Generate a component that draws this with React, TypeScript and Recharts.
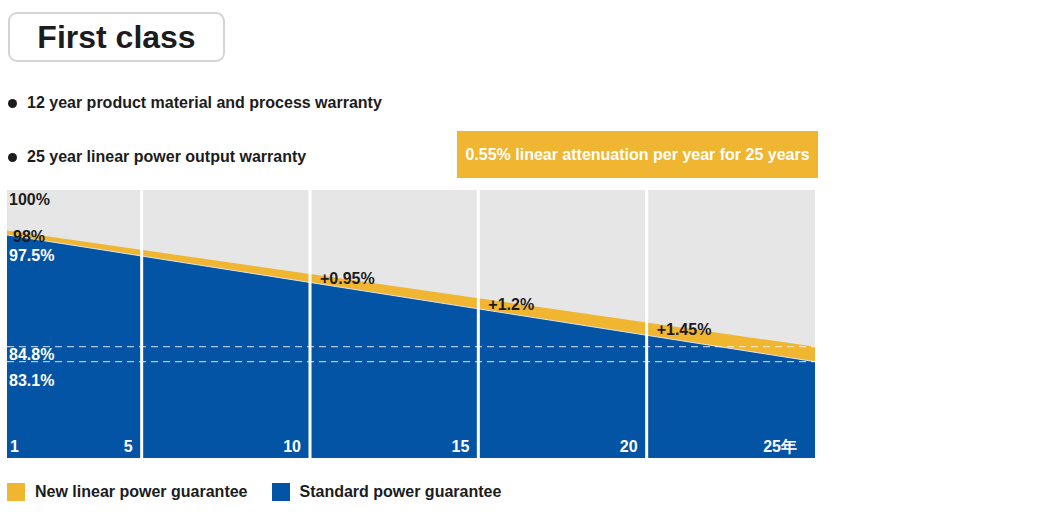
import React from 'react';
import {
  AreaChart,
  Area,
  XAxis,
  YAxis,
  CartesianGrid,
  ReferenceLine,
  ReferenceDot,
} from 'recharts';

// guaranteed output (% of nominal power) by year
const years = [1, 10, 15, 20, 25];
const newLinear = [98, 93.05, 90.3, 87.55, 84.8];
const standard = [97.5, 92.1, 89.1, 86.1, 83.1];

const gainYears = [10, 15, 20];
const gainLabels = ['+0.95%', '+1.2%', '+1.45%'];

const dividerYears = [5, 10, 15, 20];
const tickYears = [1, 5, 10, 15, 20, 25];
const tickLabels = ['1', '5', '10', '15', '20', '25年'];
const endMarks = [84.8, 83.1];

const bullets = [
  '12 year product material and process warranty',
  '25 year linear power output warranty',
];

const YELLOW = '#F0B531';
const BLUE = '#0454A6';
const GRAY = '#E6E6E6';
const DARK = '#1c1c1c';
const FONT = '"Liberation Sans", Arial, sans-serif';

const Y_MIN = 72.16;
const Y_MAX = 102.6;

const data = years.map((year, i) => ({
  year,
  newLinear: newLinear[i],
  standard: standard[i],
}));

const textDot = (
  key: string,
  x: number,
  y: number,
  text: string,
  dx: number,
  dy: number,
  fill: string,
  anchor: 'start' | 'end' = 'start'
) => (
  <ReferenceDot
    key={key}
    x={x}
    y={y}
    r={0}
    ifOverflow="visible"
    shape={(p: any) => (
      <text
        x={p.cx + dx}
        y={p.cy + dy}
        fill={fill}
        textAnchor={anchor}
        fontSize={16}
        fontWeight="bold"
        fontFamily={FONT}
      >
        {text}
      </text>
    )}
  />
);

export default function App() {
  return (
    <div style={{ position: 'absolute', left: 0, top: 0, width: 1060, height: 532, background: '#fff', fontFamily: FONT }}>
      <div
        style={{
          position: 'absolute',
          left: 8,
          top: 12,
          width: 213,
          height: 46,
          border: '2px solid #d4d4d4',
          borderRadius: 9,
          display: 'flex',
          alignItems: 'center',
          justifyContent: 'center',
          fontSize: 32,
          fontWeight: 'bold',
          color: DARK,
        }}
      >
        First class
      </div>

      {bullets.map((b, i) => (
        <div
          key={b}
          style={{
            position: 'absolute',
            left: 8,
            top: 93 + i * 54,
            display: 'flex',
            alignItems: 'center',
            fontSize: 16,
            fontWeight: 'bold',
            color: DARK,
            lineHeight: '20px',
          }}
        >
          <span style={{ width: 9, height: 9, borderRadius: '50%', background: DARK, display: 'inline-block', marginRight: 10 }} />
          {b}
        </div>
      ))}

      <div
        style={{
          position: 'absolute',
          left: 457,
          top: 131,
          width: 361,
          height: 47,
          background: YELLOW,
          color: '#fff',
          fontSize: 16,
          fontWeight: 'bold',
          display: 'flex',
          alignItems: 'center',
          justifyContent: 'center',
        }}
      >
        0.55% linear attenuation per year for 25 years
      </div>

      <div style={{ position: 'absolute', left: 0, top: 0 }}>
        <AreaChart
          width={1060}
          height={532}
          data={data}
          margin={{ top: 190, right: 245, bottom: 74, left: 7 }}
        >
          <CartesianGrid fill={GRAY} horizontal={false} vertical={false} />
          <XAxis dataKey="year" type="number" domain={[1, 25]} hide />
          <YAxis type="number" domain={[Y_MIN, Y_MAX]} allowDataOverflow hide />
          <Area
            dataKey="newLinear"
            type="linear"
            fill={YELLOW}
            fillOpacity={1}
            stroke="none"
            isAnimationActive={false}
          />
          <Area
            dataKey="standard"
            type="linear"
            fill={BLUE}
            fillOpacity={1}
            stroke="#dbe3ee"
            strokeWidth={1}
            isAnimationActive={false}
          />
          {endMarks.map((v) => (
            <ReferenceLine
              key={`m${v}`}
              y={v}
              stroke="#ffffff"
              strokeOpacity={0.85}
              strokeDasharray="7 5"
              strokeWidth={1}
            />
          ))}
          {dividerYears.map((yr) => (
            <ReferenceLine key={`d${yr}`} x={yr} stroke="#ffffff" strokeWidth={3} />
          ))}
          {textDot('t100', 1, 100, '100%', 2, -8, DARK)}
          {textDot('t98', 1, newLinear[0], '98%', 6, 12, DARK)}
          {textDot('t975', 1, standard[0], '97.5%', 2, 26, '#fff')}
          {endMarks.map((v, i) => textDot(`e${v}`, 1, v, `${v}%`, 2, i === 0 ? 13 : 24, '#fff'))}
          {gainYears.map((yr, i) => {
            const idx = years.indexOf(yr);
            const mid = (newLinear[idx] + standard[idx]) / 2;
            return textDot(`g${yr}`, yr, mid, gainLabels[i], 10, 6, DARK);
          })}
          {tickYears.map((yr, i) =>
            textDot(
              `x${yr}`,
              yr,
              Y_MIN,
              tickLabels[i],
              i === 0 ? 3 : i === tickYears.length - 1 ? -18 : -9,
              -6,
              '#fff',
              i === 0 ? 'start' : 'end'
            )
          )}
        </AreaChart>
      </div>

      <div
        style={{
          position: 'absolute',
          left: 7,
          top: 483,
          display: 'flex',
          alignItems: 'center',
          fontSize: 16,
          fontWeight: 'bold',
          color: DARK,
          lineHeight: '18px',
        }}
      >
        <span style={{ width: 18, height: 18, background: YELLOW, display: 'inline-block', marginRight: 10 }} />
        <span style={{ marginRight: 24 }}>New linear power guarantee</span>
        <span style={{ width: 18, height: 18, background: BLUE, display: 'inline-block', marginRight: 10 }} />
        <span>Standard power guarantee</span>
      </div>
    </div>
  );
}
